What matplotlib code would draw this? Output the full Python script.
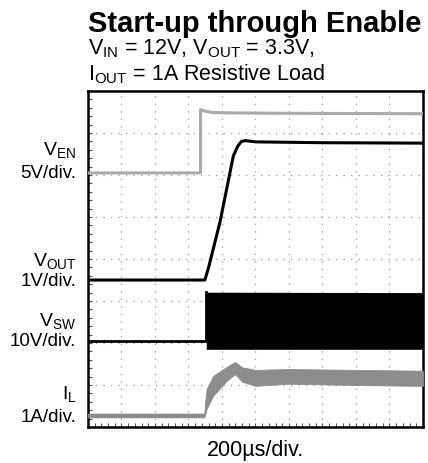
import numpy as np
import matplotlib
matplotlib.use("Agg")
import matplotlib.pyplot as plt

plt.rcParams["font.family"] = ["Liberation Sans", "DejaVu Sans"]
plt.rcParams["mathtext.fontset"] = "custom"
plt.rcParams["mathtext.rm"] = "Liberation Sans"
plt.rcParams["mathtext.it"] = "Liberation Sans"
plt.rcParams["mathtext.bf"] = "Liberation Sans:bold"

# scope traces, in divisions (x: 0..10, y: 0..8 from bottom)
ven_t = [0, 3.36, 3.36, 3.45, 3.7, 4.2, 6.0, 10]
ven_v = [6.05, 6.05, 7.56, 7.53, 7.49, 7.48, 7.47, 7.46]

vout_t = [0, 3.49, 3.6, 3.94, 4.34, 4.48, 4.58, 4.7, 5.0, 7.0, 10]
vout_v = [3.5, 3.5, 3.8, 4.88, 6.46, 6.7, 6.8, 6.82, 6.79, 6.77, 6.76]

vsw_t = [0, 3.52, 3.52]
vsw_v = [2.05, 2.05, 3.21]
vsw_band_t = [3.53, 10]
vsw_band_lo = [1.85, 1.85]
vsw_band_hi = [3.21, 3.2]

il_t = [0, 3.47, 3.5, 3.54, 3.74, 4.14, 4.39, 4.6, 5.0, 6.0, 8.0, 10]
il_lo = [0.23, 0.23, 0.3, 0.43, 0.75, 1.1, 1.26, 1.08, 0.98, 1.03, 1.0, 0.98]
il_hi = [0.32, 0.32, 0.6, 0.9, 1.22, 1.43, 1.55, 1.42, 1.36, 1.38, 1.36, 1.34]

labels = [r"V$_{\mathrm{EN}}$", r"V$_{\mathrm{OUT}}$", r"V$_{\mathrm{SW}}$", r"I$_{\mathrm{L}}$"]
scales = ["5V/div.", "1V/div.", "10V/div.", "1A/div."]
label_y = [6.62, 3.98, 2.55, 0.82]
scale_y = [6.07, 3.48, 2.05, 0.26]

fig = plt.figure(figsize=(4.28, 4.64), dpi=100)
ax = fig.add_axes([0.2056, 0.0776, 0.7827, 0.724])
ax.set_xlim(0, 10)
ax.set_ylim(0, 8)

# dotted graticule
for gx in range(1, 10):
    ax.axvline(gx, color="#9a9a9a", lw=0.9, ls=(0, (1, 5)), zorder=1)
for gy in range(1, 8):
    ax.axhline(gy, color="#9a9a9a", lw=0.9, ls=(0, (1, 5)), zorder=1)

ax.plot(ven_t, ven_v, color="#aaaaaa", lw=2.2, zorder=3)
ax.plot(vout_t, vout_v, color="black", lw=2.2, zorder=4)
ax.plot(vsw_t, vsw_v, color="black", lw=2.0, zorder=4)
ax.fill_between(vsw_band_t, vsw_band_lo, vsw_band_hi, color="black", lw=0, zorder=4)
ax.fill_between(il_t, il_lo, il_hi, color="#8c8c8c", lw=0.6, edgecolor="#8c8c8c", zorder=3)

ax.set_xticks([])
ax.set_yticks([])
ax.set_xticks(np.arange(0, 10.01, 0.2), minor=True)
ax.set_yticks(np.arange(0, 8.01, 0.2), minor=True)
ax.tick_params(which="minor", direction="in", length=3, width=0.8, color="#555555",
               labelbottom=False, labelleft=False)
for s in ax.spines.values():
    s.set_linewidth(1.8)

for lab, sc, ly, sy in zip(labels, scales, label_y, scale_y):
    ax.text(-0.35, ly, lab, ha="right", va="center", fontsize=14, clip_on=False)
    ax.text(-0.35, sy, sc, ha="right", va="center", fontsize=13.5, clip_on=False)

fig.text(0.2056, 0.949, "Start-up through Enable", fontsize=21, fontweight="bold", va="center")
fig.text(0.2056, 0.896, r"V$_{\mathrm{IN}}$ = 12V, V$_{\mathrm{OUT}}$ = 3.3V,", fontsize=15.5, va="center")
fig.text(0.2056, 0.84, r"I$_{\mathrm{OUT}}$ = 1A Resistive Load", fontsize=15.5, va="center")
fig.text(0.598, 0.03, "200µs/div.", fontsize=15.5, ha="center", va="center")

fig.savefig("out.png", dpi=100)
